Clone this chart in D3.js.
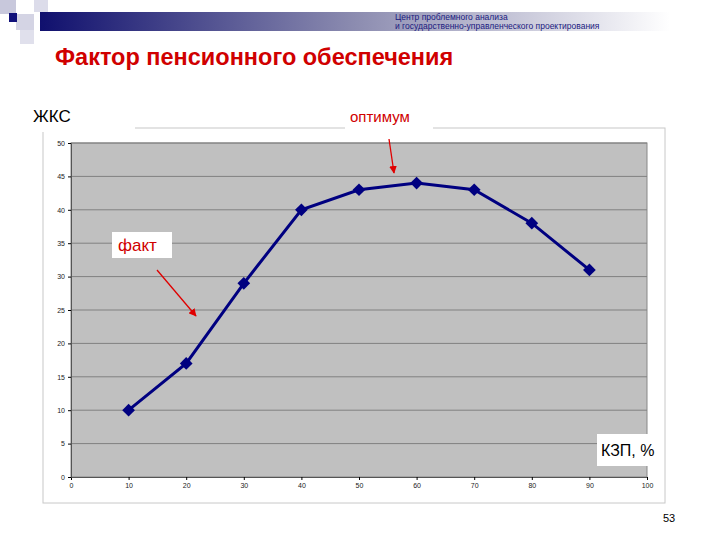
<!DOCTYPE html><html><head><meta charset="utf-8"><script src="https://cdn.jsdelivr.net/npm/d3@7"></script>
<style>body{margin:0;background:#fff}svg{font-family:Arial,"Liberation Sans",sans-serif}</style></head><body><svg id="c" width="720" height="540"></svg>
<script>
const xValues=[10,20,30,40,50,60,70,80,90];
const yValues=[10,17,29,40,43,44,43,38,31];
const xTicks=[0,10,20,30,40,50,60,70,80,90,100];
const yTicks=[0,5,10,15,20,25,30,35,40,45,50];
const svg=d3.select("#c");
const defs=svg.append("defs");
const g=defs.append("linearGradient").attr("id","hg");
g.append("stop").attr("offset","0").attr("stop-color","#10106e");
g.append("stop").attr("offset","0.5").attr("stop-color","#8c8cb0");
g.append("stop").attr("offset","1").attr("stop-color","#ffffff");
svg.append("rect").attr("x",40).attr("y",12).attr("width",630).attr("height",19).attr("fill","url(#hg)");
svg.append("rect").attr("x",0).attr("y",0).attr("width",16).attr("height",14).attr("fill","#c8c8dc");
svg.append("rect").attr("x",16).attr("y",14).attr("width",18).attr("height",16).attr("fill","#d4d4e4");
svg.append("rect").attr("x",34).attr("y",0).attr("width",14).attr("height",12).attr("fill","#dcdcea");
svg.append("rect").attr("x",20).attr("y",30).attr("width",14).attr("height",14).attr("fill","#e0e0ec");
svg.append("rect").attr("x",9).attr("y",13).attr("width",8).attr("height",9).attr("fill","#10107a");
svg.append("text").attr("x",395).attr("y",20).attr("font-size",8.5).attr("fill","#1a1a80").text("Центр проблемного анализа");
svg.append("text").attr("x",395).attr("y",29).attr("font-size",8.5).attr("fill","#1a1a80").text("и государственно-управленческого проектирования");
svg.append("text").attr("x",55).attr("y",65).attr("font-size",23.5).attr("font-weight","bold").attr("fill","#d00000").text("Фактор пенсионного обеспечения");
svg.append("rect").attr("x",43).attr("y",128).attr("width",622).attr("height",375).attr("fill","#fff").attr("stroke","#c8c8c8");
const x=d3.scaleLinear().domain([0,100]).range([71,647]);
const y=d3.scaleLinear().domain([0,50]).range([477,143]);
svg.append("rect").attr("x",71).attr("y",143).attr("width",576).attr("height",334).attr("fill","#c0c0c0").attr("stroke","#888");
svg.append("g").selectAll("line").data(yTicks.slice(1)).join("line").attr("x1",71).attr("x2",647).attr("y1",d=>y(d)).attr("y2",d=>y(d)).attr("stroke","#808080");
svg.append("g").attr("transform","translate(0,477)").call(d3.axisBottom(x).tickValues(xTicks).tickSize(3)).call(a=>{a.selectAll("text").attr("font-size",7).attr("fill","#222");a.select(".domain").attr("stroke","#555")});
svg.append("g").attr("transform","translate(71,0)").call(d3.axisLeft(y).tickValues(yTicks).tickSize(3)).call(a=>{a.selectAll("text").attr("font-size",7).attr("fill","#222");a.select(".domain").attr("stroke","#555")});
const pts=xValues.map((v,i)=>[v,yValues[i]]);
svg.append("path").attr("d",d3.line().x(d=>x(d[0])).y(d=>y(d[1]))(pts)).attr("fill","none").attr("stroke","#000080").attr("stroke-width",3);
svg.append("g").selectAll("rect").data(pts).join("rect").attr("x",-4.5).attr("y",-4.5).attr("width",9).attr("height",9).attr("transform",d=>`translate(${x(d[0])},${y(d[1])}) rotate(45)`).attr("fill","#000080");
svg.append("rect").attr("x",0).attr("y",102).attr("width",135).attr("height",30).attr("fill","#fff");
svg.append("text").attr("x",33).attr("y",122).attr("font-size",17).attr("fill","#000").text("ЖКС");
svg.append("rect").attr("x",345).attr("y",104).attr("width",88).attr("height",26).attr("fill","#fff");
svg.append("text").attr("x",350).attr("y",122).attr("font-size",15).attr("fill","#d00000").text("оптимум");
svg.append("rect").attr("x",112).attr("y",232).attr("width",60).attr("height",26).attr("fill","#fff");
svg.append("text").attr("x",118).attr("y",251).attr("font-size",17).attr("fill","#d00000").text("факт");
svg.append("rect").attr("x",597).attr("y",434).attr("width",64).attr("height",32).attr("fill","#fff");
svg.append("text").attr("x",601).attr("y",456).attr("font-size",16).attr("fill","#000").text("КЗП, %");
svg.append("text").attr("x",663).attr("y",522).attr("font-size",11).attr("fill","#000").text("53");
const m=defs.append("marker").attr("id","ah").attr("viewBox","0 0 10 10").attr("refX",9).attr("refY",5).attr("markerWidth",6).attr("markerHeight",6).attr("orient","auto");
m.append("path").attr("d","M0,0L10,5L0,10z").attr("fill","#e00000");
svg.append("line").attr("x1",389).attr("y1",139).attr("x2",394).attr("y2",173).attr("stroke","#e00000").attr("stroke-width",1.3).attr("marker-end","url(#ah)");
svg.append("line").attr("x1",157).attr("y1",270).attr("x2",196).attr("y2",316).attr("stroke","#e00000").attr("stroke-width",1.3).attr("marker-end","url(#ah)");
</script></body></html>
